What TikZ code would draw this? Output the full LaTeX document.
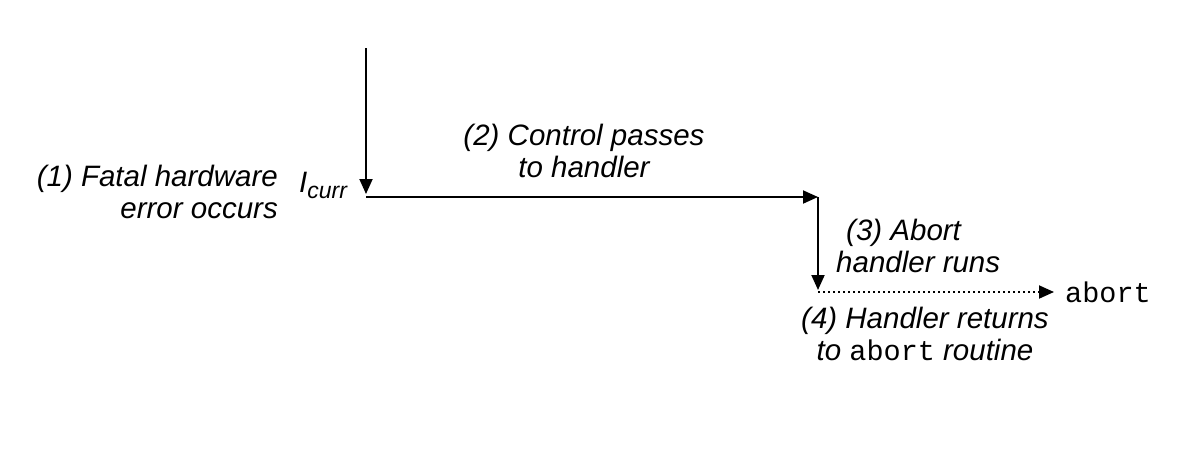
\documentclass[tikz,border=0pt]{standalone}
\usepackage{fontspec}
\setmainfont{Liberation Sans}
\setmonofont{Liberation Mono}
\usetikzlibrary{arrows.meta}
\tikzset{
  lbl/.style={inner sep=0pt, font=\fontsize{29.5}{32}\selectfont\itshape},
  code/.style={inner sep=0pt, font=\fontsize{28.5}{32}\selectfont\ttfamily},
  flow/.style={line width=1.9pt, -{Triangle[length=15pt,width=13pt]}},
  dotflow/.style={flow, dash pattern=on 2.4pt off 2.6pt},
}
\begin{document}
\begin{tikzpicture}[x=1pt,y=-1pt]
\useasboundingbox (0,0) rectangle (1186,450);
\coordinate (top) at (366,48);
\coordinate (icurr) at (366,194);
\coordinate (h1) at (366,197);
\coordinate (h2) at (818,197);
\coordinate (v2) at (818,290);
\coordinate (d1) at (818,292);
\coordinate (d2) at (1054,292);
\draw[flow] (top) -- (icurr);
\draw[flow] (h1) -- (h2);
\draw[flow] (h2) -- (v2);
\draw[dotflow] (d1) -- (d2);
\node[lbl, align=right, anchor=north east] (l1) at (278,165) {(1) Fatal hardware\\error occurs};
\node[lbl, anchor=base west] (ic) at (299,192) {I\raisebox{-6pt}{\fontsize{23}{23}\selectfont curr}};
\node[lbl, align=center, anchor=north] (l2) at (584,124) {(2) Control passes\\to handler};
\node[lbl, align=left, anchor=north west] (l3) at (836,219) {\hspace*{10pt}(3) Abort\\handler runs};
\node[code, anchor=west] (ab) at (1065,292) {abort};
\node[lbl, align=center, anchor=north] (l4) at (925,307) {(4) Handler returns\\to {\upshape\fontsize{28.5}{32}\selectfont\ttfamily abort} routine};
\end{tikzpicture}
\end{document}
